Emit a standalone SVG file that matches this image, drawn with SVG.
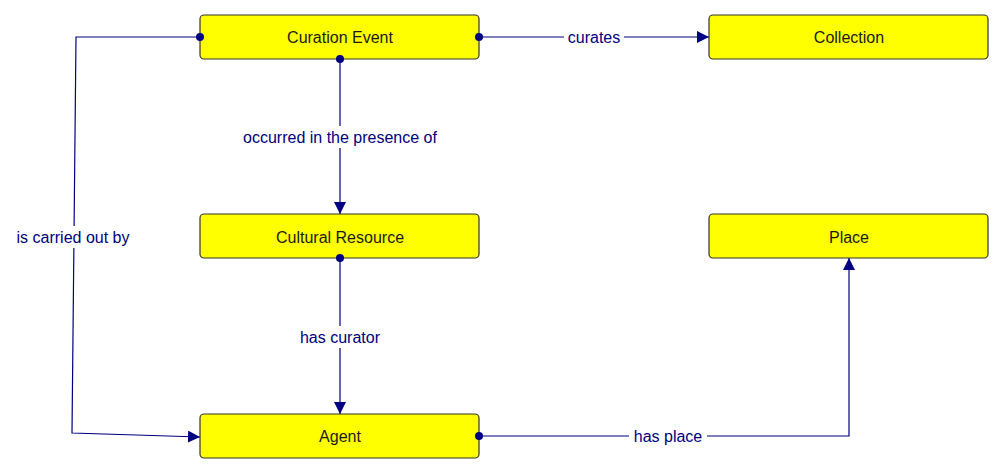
<svg xmlns="http://www.w3.org/2000/svg" width="1004" height="473" viewBox="0 0 1004 473">
<style>
.node rect{fill:#ffff00;stroke:#333333;stroke-width:1.2}
.node text{font-family:"Liberation Sans",Arial,sans-serif;font-size:16px;fill:#1a1a1a;text-anchor:middle}
.edge{fill:none;stroke:#000080;stroke-width:1.2}
.dot{fill:#000080}
.lbl{font-family:"Liberation Sans",Arial,sans-serif;font-size:16px;fill:#000080;text-anchor:middle}
.lblbg{fill:#ffffff}
</style>
<defs>
<marker id="arr" viewBox="0 0 12 12" refX="12" refY="6" markerWidth="12" markerHeight="12" markerUnits="userSpaceOnUse" orient="auto">
<path d="M0,0 L12,6 L0,12 Z" fill="#000080"/>
</marker>
</defs>
<rect width="1004" height="473" fill="#ffffff"/>
<g id="connectors">
<polyline class="edge" points="200,37 76,37 72,433 200,437" marker-end="url(#arr)"/>
<rect class="lblbg" x="14" y="226" width="118" height="22"/>
<text class="lbl" x="73" y="243">is carried out by</text>

<line class="edge" x1="479" y1="37" x2="709" y2="37" marker-end="url(#arr)"/>
<rect class="lblbg" x="564" y="26" width="60" height="22"/>
<text class="lbl" x="594" y="43">curates</text>

<line class="edge" x1="340" y1="59" x2="340" y2="214" marker-end="url(#arr)"/>
<rect class="lblbg" x="240" y="126" width="200" height="22"/>
<text class="lbl" x="340" y="143">occurred in the presence of</text>

<line class="edge" x1="340" y1="258" x2="340" y2="414" marker-end="url(#arr)"/>
<rect class="lblbg" x="296" y="326" width="88" height="22"/>
<text class="lbl" x="340" y="343">has curator</text>

<polyline class="edge" points="479,436 849,436 849,258" marker-end="url(#arr)"/>
<rect class="lblbg" x="629" y="425" width="78" height="22"/>
<text class="lbl" x="668" y="442">has place</text>
</g>
<g id="node-curation-event" class="node">
<rect x="200" y="15" width="279" height="44" rx="4"/>
<text x="340" y="43">Curation Event</text>
</g>
<g id="node-collection" class="node">
<rect x="709" y="15" width="279" height="44" rx="4"/>
<text x="849" y="43">Collection</text>
</g>
<g id="node-cultural-resource" class="node">
<rect x="200" y="214" width="279" height="44" rx="4"/>
<text x="340" y="243">Cultural Resource</text>
</g>
<g id="node-place" class="node">
<rect x="709" y="214" width="279" height="44" rx="4"/>
<text x="849" y="243">Place</text>
</g>
<g id="node-agent" class="node">
<rect x="200" y="414" width="279" height="44" rx="4"/>
<text x="340" y="442">Agent</text>
</g>
<g id="connector-dots">
<circle class="dot" cx="200" cy="37" r="4"/>
<circle class="dot" cx="479" cy="37" r="4"/>
<circle class="dot" cx="340" cy="59" r="4"/>
<circle class="dot" cx="340" cy="258" r="4"/>
<circle class="dot" cx="479" cy="436" r="4"/>
</g>
</svg>
